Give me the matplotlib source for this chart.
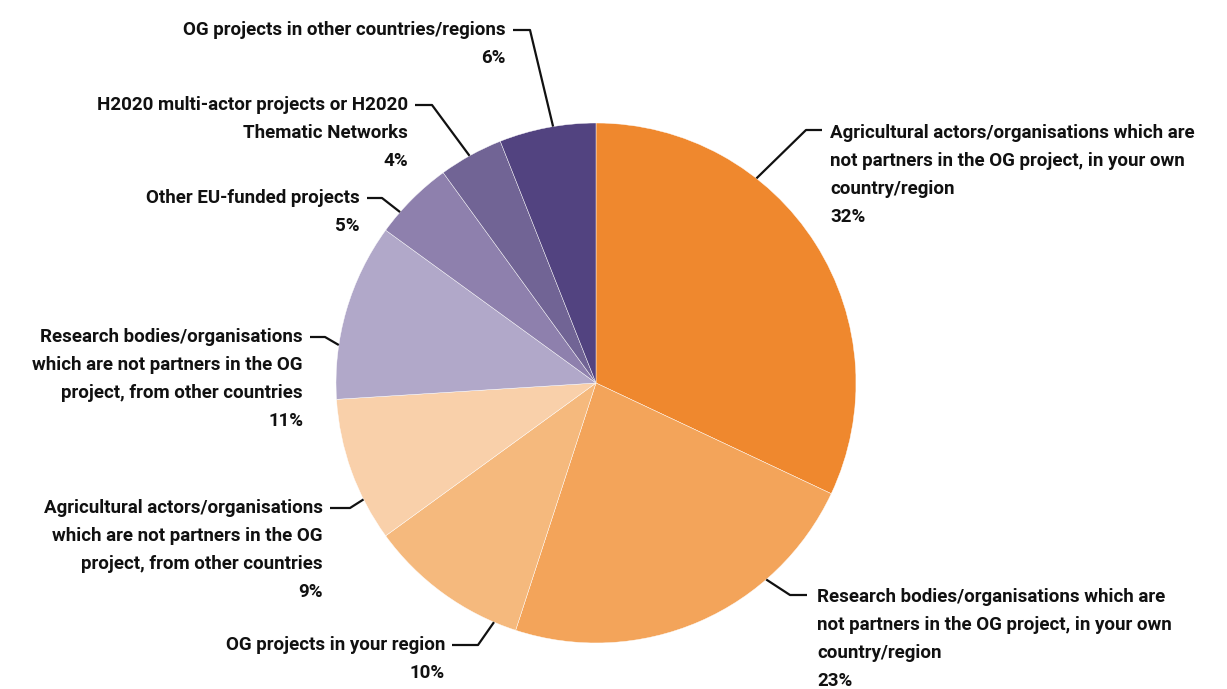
import matplotlib.pyplot as plt
import numpy as np

plt.rcParams['font.family'] = ['Roboto', 'DejaVu Sans']

# Share of answers per contact type (clockwise from 12 o'clock)
labels = [
    'Agricultural actors/organisations which are\nnot partners in the OG project, in your own\ncountry/region',
    'Research bodies/organisations which are\nnot partners in the OG project, in your own\ncountry/region',
    'OG projects in your region',
    'Agricultural actors/organisations\nwhich are not partners in the OG\nproject, from other countries',
    'Research bodies/organisations\nwhich are not partners in the OG\nproject, from other countries',
    'Other EU-funded projects',
    'H2020 multi-actor projects or H2020\nThematic Networks',
    'OG projects in other countries/regions',
]
shares = [32, 23, 10, 9, 11, 5, 4, 6]
colors = ['#EF882E', '#F3A45A', '#F5B97D', '#F9D0AA',
          '#B1A8C9', '#8E80AD', '#716495', '#524380']

W, H = 1227, 689
cx, cy, R = 596, 383, 260

fig = plt.figure(figsize=(W / 100, H / 100), dpi=100)
ax = fig.add_axes([0, 0, 1, 1])

ax.pie(shares, colors=colors, startangle=90, counterclock=False,
       center=(cx, H - cy), radius=R, frame=True,
       wedgeprops=dict(edgecolor='white', linewidth=0.3))
ax.set_xlim(0, W)
ax.set_ylim(0, H)
ax.set_aspect('equal')
ax.axis('off')

# leader layout: angle where the line leaves the pie, elbow, end of the
# horizontal stub, text anchor and alignment (pixel coords, y down)
leaders = [
    (51.9, (806, 130), (822, 130), (830, 124), 'left'),
    (-49.1, (790, 595), (807, 595), (817, 588), 'left'),
    (-113.1, (478, 645), (452, 645), (445, 636), 'right'),
    (-153.4, (350, 508), (330, 508), (323, 499), 'right'),
    (171.6, (325, 337), (310, 337), (303, 328), 'right'),
    (138.9, (382, 198), (367, 198), (360, 189), 'right'),
    (119.1, (432, 105), (415, 105), (408, 96), 'right'),
    (99.5, (530, 30), (513, 30), (506, 21), 'right'),
]

for lab, val, (ang, elbow, end, tpos, ha) in zip(labels, shares, leaders):
    a = np.deg2rad(ang)
    sx = cx + R * np.cos(a)
    sy = cy - R * np.sin(a)
    ax.plot([sx, elbow[0], end[0]], [H - sy, H - elbow[1], H - end[1]],
            color='#111111', lw=1.6, solid_capstyle='butt')
    ax.text(tpos[0], H - tpos[1], f'{lab}\n{val}%', ha=ha, va='top',
            multialignment=ha, fontsize=13.5, fontweight='bold',
            color='#111111', linespacing=1.72)

fig.savefig('out.png', dpi=100)
